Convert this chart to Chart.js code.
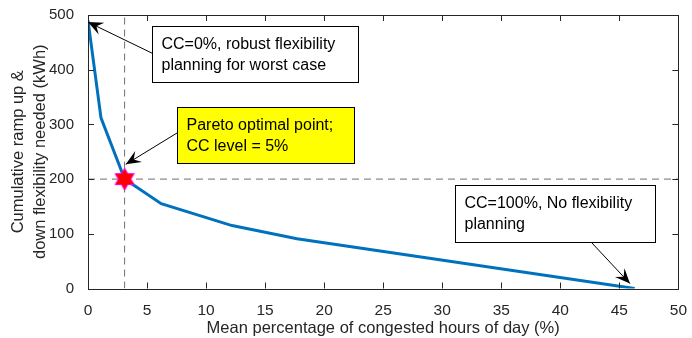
<!DOCTYPE html>
<html>
<head>
<meta charset="utf-8">
<script src="https://cdn.jsdelivr.net/npm/chart.js@4"></script>
<style>
  html, body { margin: 0; padding: 0; background: #fff; }
  #wrap { width: 692px; height: 338px; }
</style>
</head>
<body>
<div id="wrap"><canvas id="pareto-chart" width="692" height="338"></canvas></div>
<script>
// data
let congestion = Array.of(0, 1.1, 3.1, 6.2, 12.2, 17.7, 46.3);
let flexNeeded = Array.of(490, 312, 200, 155, 115, 91, 0);
let optimalX = Array.of(3.1);
let optimalY = Array.of(200);
let xTicks = Array.of(0, 5, 10, 15, 20, 25, 30, 35, 40, 45, 50);
let yTicks = Array.of(0, 100, 200, 300, 400, 500);

const axisColor = '#262626';
const fontFam = '"Liberation Sans", Arial, Helvetica, sans-serif';

// hexagram marker for the pareto point
function makeHexagram(size) {
    let c = document.createElement('canvas');
    c.width = size; c.height = size;
    let g = c.getContext('2d');
    let cx = size / 2, cy = size / 2, R = size / 2 - 1, r = R / Math.sqrt(3);
    g.beginPath();
    for (let i = 0; i < 12; i++) {
        let a = -Math.PI / 2 + i * Math.PI / 6;
        let rad = i % 2 === 0 ? R : r;
        let px = cx + rad * Math.cos(a), py = cy + rad * Math.sin(a);
        if (i === 0) g.moveTo(px, py); else g.lineTo(px, py);
    }
    g.closePath();
    g.fillStyle = '#ff0000';
    g.fill();
    g.strokeStyle = '#ff00ff';
    g.lineWidth = 1;
    g.stroke();
    return c;
}

let curve = congestion.map((x, i) => ({ x: x, y: flexNeeded[i] }));
let optimum = optimalX.map((x, i) => ({ x: x, y: optimalY[i] }));
let vGuide = [{ x: optimalX[0], y: yTicks[0] }, { x: optimalX[0], y: yTicks[yTicks.length - 1] }];
let hGuide = [{ x: xTicks[0], y: optimalY[0] }, { x: xTicks[xTicks.length - 1], y: optimalY[0] }];

// annotation boxes, anchored in data units
let notes = [
    { lines: ['CC=0%, robust flexibility', 'planning for worst case'], x: 5.45, y: 479, w: 206, h: 56, fill: '#ffffff',
      from: [0, 0.48], to: { x: 0, y: 487 } },
    { lines: ['Pareto optimal point;', 'CC level = 5%'], x: 7.5, y: 332, w: 177, h: 56, fill: '#ffff00',
      from: [0, 0.45], to: { x: 3.2, y: 227 } },
    { lines: ['CC=100%, No flexibility', 'planning'], x: 31.05, y: 190, w: 200, h: 57, fill: '#ffffff',
      from: [0.68, 1], to: { x: 45.9, y: 9 } }
];

function arrowHead(ctx, fx, fy, tx, ty) {
    let ang = Math.atan2(ty - fy, tx - fx);
    let L = 15, W = 6.5;
    ctx.save();
    ctx.translate(tx, ty);
    ctx.rotate(ang);
    ctx.beginPath();
    ctx.moveTo(0, 0);
    ctx.lineTo(-L, -W);
    ctx.lineTo(-L * 0.62, 0);
    ctx.lineTo(-L, W);
    ctx.closePath();
    ctx.fillStyle = '#000';
    ctx.fill();
    ctx.restore();
}

const framePlugin = {
    id: 'frame',
    afterDatasetsDraw(chart) {
        const { ctx, chartArea: a, scales } = chart;
        ctx.save();
        ctx.strokeStyle = axisColor;
        ctx.lineWidth = 1;
        ctx.strokeRect(Math.round(a.left) + 0.5, Math.round(a.top) + 0.5,
            Math.round(a.right - a.left), Math.round(a.bottom - a.top));
        ctx.beginPath();
        xTicks.forEach(v => {
            let px = Math.round(scales.x.getPixelForValue(v)) + 0.5;
            ctx.moveTo(px, a.bottom); ctx.lineTo(px, a.bottom - 6);
            ctx.moveTo(px, a.top); ctx.lineTo(px, a.top + 6);
        });
        yTicks.forEach(v => {
            let py = Math.round(scales.y.getPixelForValue(v)) + 0.5;
            ctx.moveTo(a.left, py); ctx.lineTo(a.left + 6, py);
            ctx.moveTo(a.right, py); ctx.lineTo(a.right - 6, py);
        });
        ctx.stroke();
        ctx.restore();
    },
    afterDraw(chart) {
        const { ctx, scales } = chart;
        ctx.save();
        notes.forEach(n => {
            let bx = Math.round(scales.x.getPixelForValue(n.x)) + 0.5;
            let by = Math.round(scales.y.getPixelForValue(n.y)) + 0.5;
            ctx.fillStyle = n.fill;
            ctx.fillRect(bx, by, n.w, n.h);
            ctx.strokeStyle = '#000';
            ctx.lineWidth = 1;
            ctx.strokeRect(bx, by, n.w, n.h);
            ctx.fillStyle = '#000';
            ctx.font = '16px ' + fontFam;
            ctx.textBaseline = 'middle';
            ctx.textAlign = 'left';
            n.lines.forEach((t, i) => ctx.fillText(t, bx + 9, by + 18 + i * 21));
            let fx = bx + n.from[0] * n.w, fy = by + n.from[1] * n.h;
            let tx = scales.x.getPixelForValue(n.to.x), ty = scales.y.getPixelForValue(n.to.y);
            ctx.beginPath();
            ctx.moveTo(fx, fy);
            ctx.lineTo(tx, ty);
            ctx.strokeStyle = '#000';
            ctx.lineWidth = 1;
            ctx.stroke();
            arrowHead(ctx, fx, fy, tx, ty);
        });
        ctx.restore();
    }
};

let datasets = [
    {
        label: 'guide-v', data: vGuide, showLine: true, borderColor: '#707070', borderWidth: 1,
        borderDash: [7, 5], pointRadius: 0, order: 3
    },
    {
        label: 'guide-h', data: hGuide, showLine: true, borderColor: '#707070', borderWidth: 1,
        borderDash: [7, 5], pointRadius: 0, order: 3
    },
    {
        label: 'Pareto front', data: curve, showLine: true, borderColor: '#0072BD', borderWidth: 3,
        pointRadius: 0, tension: 0, order: 2
    },
    {
        label: 'Optimum', data: optimum, pointStyle: makeHexagram(24), pointRadius: 12, order: 1
    }
];

var options = {
    responsive: false,
    animation: false,
    layout: { padding: { top: 14, right: 13, left: 0, bottom: 0 } },
    plugins: { legend: { display: false }, tooltip: { enabled: false } },
    scales: {
        x: {
            type: 'linear', min: 0, max: 50,
            afterBuildTicks: s => { s.ticks = xTicks.map(v => ({ value: v })); },
            afterFit: s => { s.height = 49.5; },
            grid: { display: false },
            border: { display: false },
            ticks: { color: axisColor, font: { family: fontFam, size: 15.5 }, padding: 5, maxRotation: 0 },
            title: { display: true, text: 'Mean percentage of congested hours of day (%)', color: axisColor,
                font: { family: fontFam, size: 16.5 }, padding: { top: 0, bottom: 0 } }
        },
        y: {
            type: 'linear', min: 0, max: 500,
            afterBuildTicks: s => { s.ticks = yTicks.map(v => ({ value: v })); },
            afterFit: s => { s.width = 88; },
            grid: { display: false },
            border: { display: false },
            ticks: { color: axisColor, font: { family: fontFam, size: 15 }, padding: 6 },
            title: { display: true, text: ['Cumulative ramp up &', 'down flexibility needed (kWh)'], color: axisColor,
                font: { family: fontFam, size: 16.5, lineHeight: 1.3 }, padding: { top: 8, bottom: 0 } }
        }
    }
};

let ctx = document.getElementById('pareto-chart').getContext('2d');
var paretoChart = new Chart(ctx, {
    type: 'scatter',
    data: { datasets: datasets },
    options: options,
    plugins: [framePlugin]
});
</script>
</body>
</html>
